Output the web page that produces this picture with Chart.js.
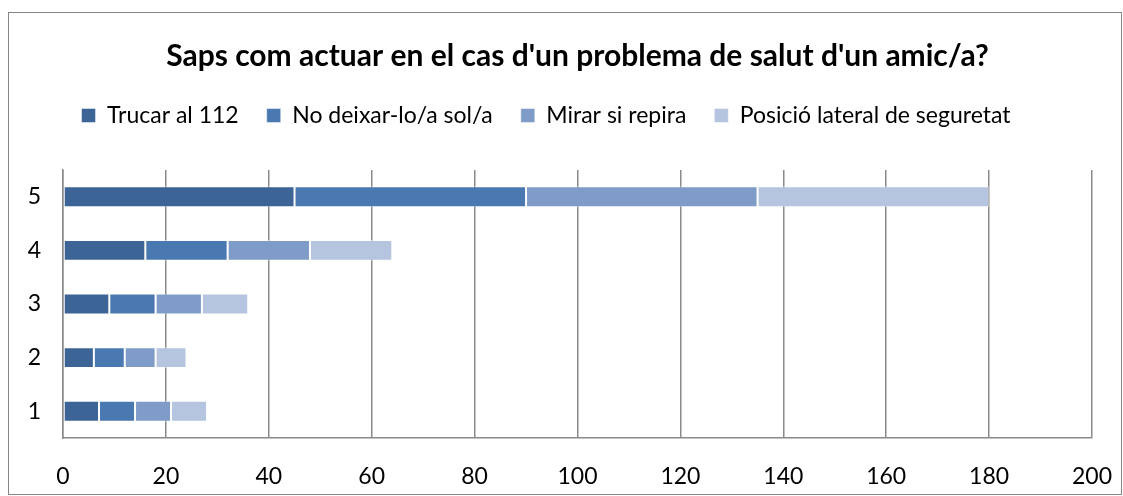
<!DOCTYPE html>
<html><head><meta charset="utf-8">
<script src="https://cdn.jsdelivr.net/npm/chart.js@4"></script>
<style>html,body{margin:0;padding:0;background:#fff}#wrap{width:1123px;height:496px;position:relative}</style>
</head><body><div id="wrap"><canvas id="c" width="1123" height="496"></canvas></div>
<script>
const categories = ['5','4','3','2','1'];
const seriesNames = ['Trucar al 112','No deixar-lo/a sol/a','Mirar si repira','Posició lateral de seguretat'];
const trucar = [45,16,9,6,7];
const noDeixar = [45,16,9,6,7];
const mirar = [45,16,9,6,7];
const posicio = [45,16,9,6,7];
const colors = ['#3D6497','#4A79B1','#7F9CC8','#B5C4DF'];
const FONT = 'Lato, "Open Sans", sans-serif';

const borderPlugin = {
  id:'outerBorder',
  beforeDraw(chart){
    const ctx = chart.ctx;
    ctx.save();
    ctx.fillStyle='#fff';
    ctx.fillRect(0,0,chart.width,chart.height);
    ctx.strokeStyle='#868686';
    ctx.lineWidth=1;
    ctx.strokeRect(8.5,12.5,1113,482);
    ctx.restore();
  }
};

const vals=[trucar,noDeixar,mirar,posicio];
new Chart(document.getElementById('c'),{
  type:'bar',
  data:{labels:categories,datasets:seriesNames.map((n,i)=>({label:n,data:vals[i],backgroundColor:colors[i],borderColor:'rgba(255,255,255,0.45)',borderWidth:1,borderSkipped:false,categoryPercentage:1,barPercentage:0.39,xAxisID:'x'}))},
  options:{
    indexAxis:'y',responsive:false,animation:false,
    layout:{padding:{left:0,right:31,top:0,bottom:0}},
    plugins:{
      title:{display:true,fullSize:false,text:"Saps com actuar en el cas d'un problema de salut d'un amic/a?",color:'#000',font:{family:FONT,size:30,weight:'bold'},padding:{top:38,bottom:2}},
      legend:{display:true,labels:{color:'#000',font:{family:FONT,size:23},boxWidth:14,boxHeight:14,padding:28}},
      tooltip:{enabled:false}
    },
    scales:{
      x:{stacked:true,min:0,max:200,ticks:{stepSize:20,color:'#000',font:{family:FONT,size:23,lineHeight:'72px'},padding:3},
         grid:{color:'#8a8a8a',lineWidth:1.5,drawTicks:false},border:{color:'#8a8a8a',width:1.5},
         afterFit(s){s.height=58;}},
      xTop:{position:'top',axis:'x',display:true,min:0,max:1,ticks:{display:false},grid:{display:false,drawTicks:false},border:{display:false},
         afterFit(s){s.height=33;}},
      y:{stacked:true,ticks:{color:'#000',font:{family:FONT,size:23},padding:22},
         grid:{display:false,drawTicks:false},border:{color:'#8a8a8a',width:1.5},
         afterFit(s){s.width=63;}}
    }
  },
  plugins:[borderPlugin]
});
</script></body></html>
